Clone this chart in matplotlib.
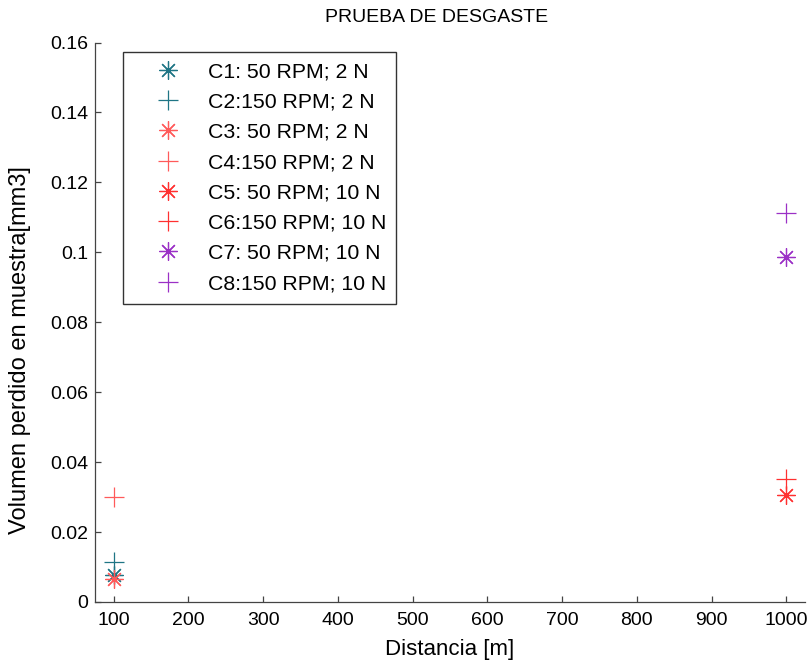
import matplotlib
matplotlib.use("Agg")
import matplotlib.pyplot as plt
from matplotlib.ticker import FuncFormatter

plt.rcParams['font.family'] = ['Liberation Sans', 'DejaVu Sans']

# Wear test results: lost volume per sample at each sliding distance
labels = ["C1: 50 RPM; 2 N", "C2:150 RPM; 2 N", "C3: 50 RPM; 2 N", "C4:150 RPM; 2 N",
          "C5: 50 RPM; 10 N", "C6:150 RPM; 10 N", "C7: 50 RPM; 10 N", "C8:150 RPM; 10 N"]
distance = [100, 100, 100, 100, 1000, 1000, 1000, 1000]
volume = [0.0078, 0.0113, 0.0067, 0.0300, 0.0305, 0.0351, 0.0987, 0.1112]
markers = ["*", "+", "*", "+", "*", "+", "*", "+"]
colors = ["#1f7585", "#1f7585", "#ff5a5a", "#ff5a5a",
          "#ff3030", "#ff3030", "#9b30c6", "#9b30c6"]

x_ticks = [100, 200, 300, 400, 500, 600, 700, 800, 900, 1000]
y_ticks = [0, 0.02, 0.04, 0.06, 0.08, 0.1, 0.12, 0.14, 0.16]

W, H = 812, 666
fig = plt.figure(figsize=(W / 100, H / 100), dpi=100)
ax = fig.add_axes([95 / W, 1 - 602 / H, 710 / W, 559.5 / H])

asterisk = (8, 2, 0)
for lab, xd, yd, mk, c in zip(labels, distance, volume, markers, colors):
    m = asterisk if mk == "*" else "+"
    ms = 13 if mk == "*" else 14
    ax.plot([xd], [yd], linestyle="none", marker=m, markersize=ms,
            markeredgewidth=0.9, color=c, label=lab)

ax.set_xlim(75, 1025)
ax.set_ylim(0, 0.16)
ax.set_xticks(x_ticks)
ax.set_yticks(y_ticks)
ax.yaxis.set_major_formatter(FuncFormatter(lambda v, p: "%g" % v))

for side in ("top", "right"):
    ax.spines[side].set_visible(False)
for side in ("left", "bottom"):
    ax.spines[side].set_color("#444444")
    ax.spines[side].set_linewidth(0.9)
ax.tick_params(direction="in", length=4, width=0.9, color="#444444",
               labelsize=14)
ax.tick_params(axis="x", pad=7.5)
ax.tick_params(axis="y", pad=5)

ax.set_xlabel("Distancia [m]", fontsize=16)
ax.xaxis.set_label_coords(0.5, -(650 - 602) / 559.5)
ax.xaxis.label.set_va("center")
ax.set_ylabel("Volumen perdido en muestra[mm3]", fontsize=17)
ax.yaxis.set_label_coords(-(95 - 20) / 710, (602 - 350) / 559.5)
ax.yaxis.label.set_va("center")
fig.text(436.5 / W, 1 - 18 / H, "PRUEBA DE DESGASTE", fontsize=14,
         ha="center", va="center")

lw_px, lh_px = 396 - 123.3, 303 - 51.7
leg = ax.legend(loc="upper left",
                bbox_to_anchor=(123.3 / W, 1 - 303 / H, lw_px / W, lh_px / H),
                bbox_transform=fig.transFigure, borderaxespad=0, mode="expand",
                fontsize=15.3, frameon=True, fancybox=False, numpoints=1,
                handlelength=3.24, handletextpad=0.26, labelspacing=0.53,
                borderpad=0.5)
leg.get_frame().set_edgecolor("black")
leg.get_frame().set_linewidth(1.0)

fig.savefig("out.png", dpi=100)
